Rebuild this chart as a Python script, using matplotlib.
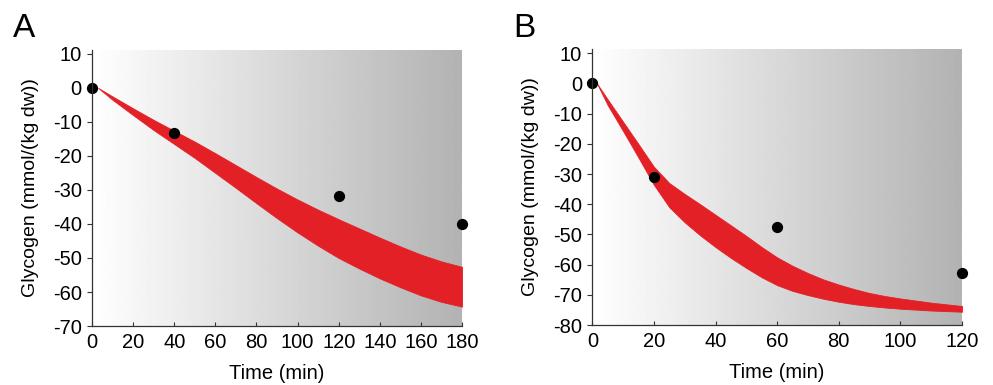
import numpy as np
import matplotlib
matplotlib.use("Agg")
import matplotlib.pyplot as plt

plt.rcParams['font.family'] = ['Liberation Sans', 'DejaVu Sans']

# Panel A data
a_time = [0, 40, 120, 180]
a_obs = [0, -13.2, -31.9, -40.0]
a_band_t = [3, 10, 20, 30, 40, 50, 60, 70, 80, 90, 100, 110, 120, 130, 140, 150, 160, 170, 180]
a_upper = [0, -2.5, -6, -9.4, -12.6, -15.8, -19.2, -22.7, -26.2, -29.6, -32.8, -35.8, -38.6, -41.3, -44.0, -46.6, -49, -51, -52.6]
a_lower = [0, -3.5, -8, -12.4, -16.5, -20.6, -25, -29.4, -33.9, -38.3, -42.5, -46.4, -50, -53.1, -56, -58.6, -61, -62.9, -64.3]
a_xticks = [0, 20, 40, 60, 80, 100, 120, 140, 160, 180]
a_yticks = [10, 0, -10, -20, -30, -40, -50, -60, -70]

# Panel B data
b_time = [0, 20, 60, 120]
b_obs = [0, -30.9, -47.7, -62.8]
b_band_t = [1.5, 5, 10, 15, 20, 25, 30, 35, 40, 45, 50, 55, 60, 65, 70, 75, 80, 85, 90, 95, 100, 110, 120]
b_upper = [0, -5.3, -12.7, -20.1, -27.6, -33, -36.6, -40.0, -43.5, -47.0, -50.5, -54.2, -57.6, -60.4, -62.8, -64.9, -66.6, -68.1, -69.4, -70.4, -71.2, -72.6, -73.7]
b_lower = [0, -7.2, -15.8, -24.6, -33.6, -41, -46, -50.3, -54.2, -57.8, -61.1, -64.2, -66.8, -68.7, -70.1, -71.3, -72.3, -73.1, -73.7, -74.2, -74.6, -75.2, -75.6]
b_xticks = [0, 20, 40, 60, 80, 100, 120]
b_yticks = [10, 0, -10, -20, -30, -40, -50, -60, -70, -80]

ylabel = "Glycogen (mmol/(kg dw))"
xlabel = "Time (min)"

fig = plt.figure(figsize=(9.93, 3.85), dpi=100)

def panel(rect, t, obs, bt, up, lo, xt, yt, xlim, ylim, letter):
    ax = fig.add_axes(rect)
    grad = np.linspace(1.0, 0.70, 256)[None, :]
    ax.imshow(grad, cmap='gray', vmin=0, vmax=1, aspect='auto',
              extent=[xlim[0], xlim[1], ylim[0], ylim[1]], zorder=0,
              interpolation='bilinear')
    ax.fill_between(bt, lo, up, color='#e32026', lw=0.6, edgecolor='#e32026', zorder=2)
    ax.scatter(t, obs, s=50, color='black', zorder=3, clip_on=False)
    ax.set_xlim(*xlim)
    ax.set_ylim(*ylim)
    ax.set_xticks(xt)
    ax.set_yticks(yt)
    ax.set_yticklabels([str(v) for v in yt])
    for s in ['top', 'right']:
        ax.spines[s].set_visible(False)
    for s in ['left', 'bottom']:
        ax.spines[s].set_color('#333333')
        ax.spines[s].set_linewidth(0.9)
        ax.spines[s].set_zorder(4)
    ax.tick_params(axis='x', direction='in', length=3, width=0.8, color='#333333',
                   labelsize=14.5, pad=5)
    ax.tick_params(axis='y', direction='out', length=3.5, width=0.8, color='#333333',
                   labelsize=14.5, pad=4)
    ax.set_xlabel(xlabel, fontsize=14.5, labelpad=9)
    ax.set_ylabel(ylabel, fontsize=14, labelpad=10)
    fig.text(rect[0] - 0.08, 0.885, letter, fontsize=24, ha='left', va='bottom')
    return ax

panel([0.0927, 0.1532, 0.3726, 0.7182], a_time, a_obs, a_band_t, a_upper, a_lower,
      a_xticks, a_yticks, (0, 180), (-70, 11.3), 'A')
panel([0.5965, 0.1558, 0.3723, 0.7169], b_time, b_obs, b_band_t, b_upper, b_lower,
      b_xticks, b_yticks, (0, 120), (-80, 11.4), 'B')

fig.savefig('out.png', dpi=100)
